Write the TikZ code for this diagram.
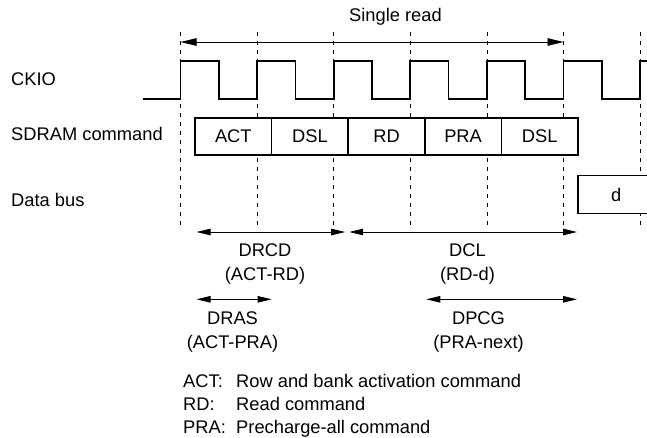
\documentclass[tikz,border=0pt]{standalone}
\usepackage{fontspec}
\setmainfont{Liberation Sans}
\usetikzlibrary{arrows.meta,positioning}

\begin{document}
\begin{tikzpicture}[x=1pt,y=-1pt,>={Triangle[length=14pt,width=6.5pt]},font=\fontsize{18.3}{22}\selectfont]
\tikzset{
 c/.style={draw,line width=1.5pt,fill=white,minimum width=76.6pt,minimum height=37pt,inner sep=0pt,outer sep=0pt},
 g/.style={dash pattern=on 4pt off 5pt,line width=0.75pt},
 a/.style={<->,line width=0.9pt},
 t/.style={anchor=base west,inner sep=0pt},
 l/.style={align=center,inner sep=0pt,font=\fontsize{18.3}{24}\selectfont}
}
\useasboundingbox (0,0) rectangle (647,437);
% clock edges
\foreach \k in {0,...,6}{
 \coordinate (g\k) at (180.5+76.6*\k,32);
 \draw[g] (g\k) -- ++(0,195);
}
\draw[line width=1.7pt] (143,98.7) \foreach \k in {0,...,5}{ -- (180.5+76.6*\k,98.7) -- ++(0,-37.7) -- ++(38.3,0) -- ++(0,37.7)} -- (640.1,98.7) -- (640.1,61) -- (647,61);
% signal names
\node[t] (ckio) at (11,85.5) {CKIO};
\node[t] (cmdlbl) at (11,140.7) {SDRAM command};
\node[t] (buslbl) at (11,206.5) {Data bus};
% commands
\node[c] (act) at (233.3,136.5) {ACT};
\node[c,right=0pt of act] (dsl1) {DSL};
\node[c,right=0pt of dsl1] (rd) {RD};
\node[c,right=0pt of rd] (pra) {PRA};
\node[c,right=0pt of pra] (dsl2) {DSL};
\begin{scope}
\clip (0,0) rectangle (647,437);
\node[c,minimum height=37.6pt] (dbox) at (616.3,194.5) {d};
\end{scope}
% timings
\coordinate (lv1) at (0,232);
\coordinate (lv2) at (0,299.3);
\draw[a,>={Triangle[length=16pt,width=7.5pt]}] ([yshift=-10pt]g0) -- ([yshift=-10pt]g5);
\node (single) at (395.5,17) {Single read};
\draw[a,shorten <=1.5pt,shorten >=3pt] (act.west |- lv1) -- (rd.west |- lv1);
\draw[a,shorten <=1pt,shorten >=1pt] (rd.west |- lv1) -- (dbox.west |- lv1);
\draw[a,shorten <=1.5pt] (act.west |- lv2) -- (act.east |- lv2);
\draw[a,shorten <=1.5pt,shorten >=1pt] (pra.west |- lv2) -- (dbox.west |- lv2);
\node[l] (drcd) at (265,264) {DRCD\\(ACT-RD)};
\node[l] (dcl) at (467.5,264) {DCL\\(RD-d)};
\node[l] (dras) at (232.5,332) {DRAS\\(ACT-PRA)};
\node[l] (dpcg) at (478.5,332) {DPCG\\(PRA-next)};
% legend
\foreach \n/\y/\s in {ACT/387/Row and bank activation command,RD/410/Read command,PRA/433/Precharge-all command}{
 \node[t] (key\n) at (183,\y) {\n:};
 \node[t] (desc\n) at (236,\y) {\s};
}
\end{tikzpicture}
\end{document}
